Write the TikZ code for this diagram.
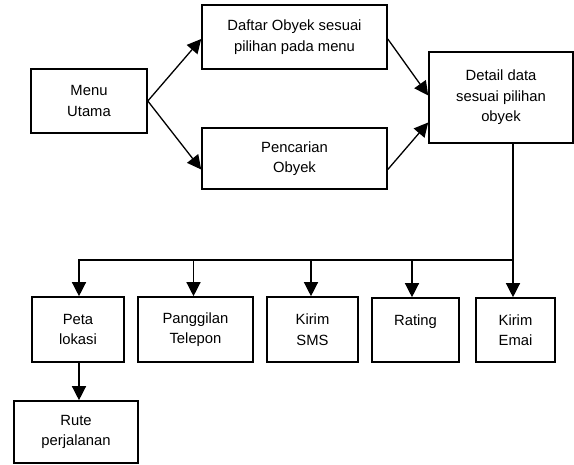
\documentclass[tikz,border=0pt]{standalone}
\usepackage{fontspec}
\setmainfont{Liberation Sans}
\usetikzlibrary{arrows.meta}
\begin{document}
\begin{tikzpicture}[x=1pt,y=-1pt,
  box/.style={draw,line width=1.6pt,align=center,inner sep=0pt,
    font=\fontsize{14.8}{20.5}\selectfont},
  arr/.style={line width=1.3pt,-{Triangle[length=14pt,width=14pt]}},
  ln/.style={line width=1.3pt}]
\useasboundingbox (0,0) rectangle (574,465);
\node[box,minimum width=116pt,minimum height=64pt] (menu) at (89,101) {Menu\\Utama};
\node[box,minimum width=185pt,minimum height=64pt] (daftar) at (294.5,37) {Daftar Obyek sesuai\\pilihan pada menu};
\node[box,minimum width=185pt,minimum height=61pt] (cari) at (294.5,158.5) {Pencarian\\Obyek};
\node[box,minimum width=144pt,minimum height=91pt] (detail) at (501,97.5) {Detail data\\sesuai pilihan\\obyek};
\node[box,minimum width=92pt,minimum height=65pt] (peta) at (78,329.5) {Peta\\lokasi};
\node[box,minimum width=115pt,minimum height=65pt] (telp) at (195.5,329.5) {Panggilan\\Telepon};
\node[box,minimum width=91pt,minimum height=65pt] (sms) at (312.5,329.5) {Kirim\\SMS};
\node[box,minimum width=87pt,minimum height=64pt] (rating) at (415.5,330) {Rating\\\phantom{R}};
\node[box,minimum width=79pt,minimum height=64pt] (email) at (515.5,330) {Kirim\\Emai};
\node[box,minimum width=124pt,minimum height=62pt] (rute) at (76,432) {Rute\\perjalanan};
\coordinate (top) at ([xshift=12pt]detail.south);
\coordinate (bus) at (513,260);
\draw[arr] (menu.east) -- ([yshift=-2pt]daftar.west);
\draw[arr] (menu.east) -- ([yshift=-11pt]cari.west);
\draw[arr] ([yshift=-2pt]daftar.east) -- ([yshift=2pt]detail.west);
\draw[arr] ([yshift=-11pt]cari.east) -- ([yshift=-25pt]detail.west);
\draw[ln] (top) -- (bus);
\draw[arr] (bus) -| ([xshift=1pt]peta.north);
\draw[arr] ([xshift=-2pt]telp.north |- bus) -- ([xshift=-2pt]telp.north);
\draw[arr] ([xshift=-1.5pt]sms.north |- bus) -- ([xshift=-1.5pt]sms.north);
\draw[arr] ([xshift=-3.5pt]rating.north |- bus) -- ([xshift=-3.5pt]rating.north);
\draw[arr] (bus) -- (bus |- email.north);
\draw[arr] ([xshift=1pt]peta.south) -- ([xshift=1pt]peta.south |- rute.north);
\end{tikzpicture}
\end{document}
